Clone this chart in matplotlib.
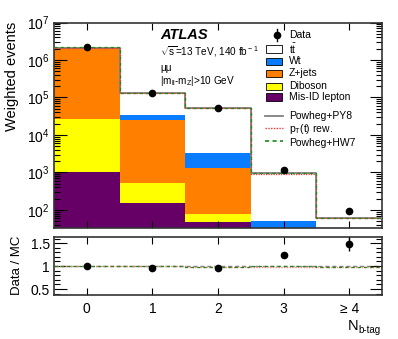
import numpy as np
import matplotlib
matplotlib.use("Agg")
import matplotlib.pyplot as plt
from matplotlib.patches import Rectangle
from matplotlib.lines import Line2D
from matplotlib.ticker import LogLocator, FixedLocator, NullFormatter, MultipleLocator

plt.rcParams['font.family'] = ['Liberation Sans', 'DejaVu Sans']
plt.rcParams['mathtext.fontset'] = 'custom'
plt.rcParams['mathtext.rm'] = 'Liberation Sans'
plt.rcParams['mathtext.it'] = 'Liberation Sans:italic'
plt.rcParams['mathtext.bf'] = 'Liberation Sans:bold'

# ---------------- data ----------------
categories = ["0", "1", "2", "3", "\u2265 4"]
mis_id = [1.0e3, 155, 49, 8, 1]
diboson = [2.6e4, 375, 29, 2, 0.2]
zjets = [2.09e6, 2.45e4, 1.24e3, 12, 1]
wt = [5.0e3, 1.0e4, 1.93e3, 29, 5]
ttbar = [2.8e4, 9.9e4, 5.03e4, 899, 55]
data = [2.16e6, 1.28e5, 5.1e4, 1180, 92]
data_err = [1.5e3, 360, 230, 34, 10]
pt_rew_total = [2.15e6, 1.34e5, 5.25e4, 930, 61]
hw7_total = [2.16e6, 1.345e5, 5.25e4, 950, 61]
ratio_err = [0.005, 0.01, 0.01, 0.035, 0.15]

names = ["Mis-ID lepton", "Diboson", "Z+jets", "Wt", "t$\\bar{\\rm t}$"]
colors = ["#660066", "#ffff00", "#ff7f00", "#0a7cff", "#ffffff"]

# ---------------- figure ----------------
W, H = 398, 339
fig = plt.figure(figsize=(W / 100, H / 100), dpi=100)

def fx(px):
    return px / W

def fy(py):
    return 1 - py / H

ax = fig.add_axes([fx(54), fy(228), fx(382) - fx(54), fy(22.5) - fy(228)])
rax = fig.add_axes([fx(54), fy(295), fx(382) - fx(54), fy(236.7) - fy(295)])

x = np.arange(len(categories))
comps = [mis_id, diboson, zjets, wt, ttbar]
bottom = np.zeros(len(x))
for vals, c in zip(comps, colors):
    v = np.array(vals, dtype=float)
    ax.bar(x, v, width=1.0, bottom=bottom, color=c, edgecolor='none', linewidth=0, zorder=1)
    bottom = bottom + v
total = bottom.copy()

edges = np.arange(len(x) + 1) - 0.5
def step(a, vals, **kw):
    yv = np.append(vals, vals[-1])
    a.step(edges, yv, where='post', **kw)

step(ax, total, color='#808080', lw=1.3, zorder=3)
step(ax, np.array(pt_rew_total), color='#ff3030', lw=0.9, ls=(0, (1, 1)), zorder=4)
step(ax, np.array(hw7_total), color='#1a8a1a', lw=0.9, ls=(0, (2.5, 2.5)), zorder=5)

ax.errorbar(x, data, yerr=data_err, fmt='o', color='black', ms=4.5, lw=1, capsize=0, zorder=6)

ax.set_yscale('log')
ax.set_ylim(33, 1e7)
ax.set_xlim(-0.5, 4.5)
ax.set_xticks(x)
ax.set_xticklabels([])
ax.yaxis.set_major_locator(LogLocator(base=10, numticks=10))
ax.yaxis.set_minor_locator(LogLocator(base=10, subs=np.arange(2, 10), numticks=20))
ax.yaxis.set_minor_formatter(NullFormatter())
ax.tick_params(axis='both', which='both', direction='in', top=True, right=True, labelsize=10, pad=3)
ax.tick_params(axis='y', which='major', length=9, width=0.8)
ax.tick_params(axis='y', which='minor', length=4.5, width=0.8)
ax.tick_params(axis='x', which='major', length=5, width=0.8)
for s in ax.spines.values():
    s.set_linewidth(1.2)
    s.set_color('#333333')

# ratio panel
rax.axhline(1.0, color='#808080', lw=1.0, ls=(0, (3, 2)), zorder=1)
ratio = np.array(data) / total
step(rax, np.array(pt_rew_total) / total, color='#ff8080', lw=1.0, ls=(0, (1, 1)), zorder=2)
step(rax, np.array(hw7_total) / total, color='#1a8a1a', lw=0.9, ls=(0, (2.5, 2.5)), zorder=3)
rax.errorbar(x, ratio, yerr=ratio_err, fmt='o', color='black', ms=4.5, lw=1, capsize=0, zorder=5)
rax.set_xlim(-0.5, 4.5)
rax.set_ylim(0.37, 1.64)
rax.set_xticks(x)
rax.set_xticklabels(categories, fontsize=10)
rax.yaxis.set_major_locator(FixedLocator([0.5, 1.0, 1.5]))
rax.set_yticklabels(["0.5", "1", "1.5"], fontsize=10)
rax.yaxis.set_minor_locator(MultipleLocator(0.1))
rax.tick_params(axis='both', which='both', direction='in', top=True, right=True, pad=3)
rax.tick_params(axis='y', which='major', length=9, width=0.8)
rax.tick_params(axis='y', which='minor', length=4.5, width=0.8)
rax.tick_params(axis='x', which='major', length=5, width=0.8, pad=5)
for s in rax.spines.values():
    s.set_linewidth(1.2)
    s.set_color('#333333')

# axis titles
fig.text(fx(12), fy(22), "Weighted events", rotation=90, ha='center', va='top', fontsize=10.5)
fig.text(fx(17), fy(265), "Data / MC", rotation=90, ha='center', va='center', fontsize=9.5)
fig.text(fx(358), fy(330), "N", ha='right', va='baseline', fontsize=10.5)
fig.text(fx(358.5), fy(333), "b-tag", ha='left', va='baseline', fontsize=7)

# ATLAS labels
fig.text(fx(160), fy(35), "ATLAS", fontsize=10.5, fontweight='bold', style='italic', ha='left', va='center')
fig.text(fx(160), fy(52), "$\\sqrt{\\rm s}$=13 TeV, 140 fb$^{\\rm -1}$", fontsize=7.2, ha='left', va='center')
fig.text(fx(160), fy(68), "\u03bc\u03bc", fontsize=7.2, ha='left', va='center')
fig.text(fx(160), fy(81), "|m$_{\\rm ll}$-m$_{\\rm Z}$|>10 GeV", fontsize=7.2, ha='left', va='center')

# legend (hand-built)
lx0, lx1 = 265.5, 281.5
tx = 289
fig.add_artist(Line2D([fx(277), fx(277)], [fy(29), fy(41)], color='black', lw=1, transform=fig.transFigure))
fig.add_artist(Line2D([fx(277)], [fy(35)], marker='o', color='black', ms=4.5, transform=fig.transFigure))
fig.text(fx(tx), fy(35), "Data", fontsize=7.5, ha='left', va='center')
leg_rows = [(49, 4), (61, 3), (73, 2), (86, 1), (97, 0)]
for yy, idx in leg_rows:
    fig.add_artist(Rectangle((fx(lx0), fy(yy + 3.5)), fx(lx1) - fx(lx0), fy(yy - 3.5) - fy(yy + 3.5),
                             facecolor=colors[idx], edgecolor='black', lw=0.6, transform=fig.transFigure))
    fig.text(fx(tx), fy(yy), names[idx], fontsize=7.5, ha='left', va='center')
fig.add_artist(Line2D([fx(265), fx(283)], [fy(116), fy(116)], color='#808080', lw=1.3, transform=fig.transFigure))
fig.text(fx(tx), fy(116), "Powheg+PY8", fontsize=7.5, ha='left', va='center')
fig.add_artist(Line2D([fx(265), fx(283)], [fy(128), fy(128)], color='#ff3030', lw=1.0, ls=(0, (1, 1)), transform=fig.transFigure))
fig.text(fx(tx), fy(129), "p$_{\\rm T}$(t) rew.", fontsize=7.5, ha='left', va='center')
fig.add_artist(Line2D([fx(265), fx(283)], [fy(141), fy(141)], color='#1a8a1a', lw=1.2, ls=(0, (2.5, 2)), transform=fig.transFigure))
fig.text(fx(tx), fy(143), "Powheg+HW7", fontsize=7.5, ha='left', va='center')

fig.savefig("out.png", dpi=100)
